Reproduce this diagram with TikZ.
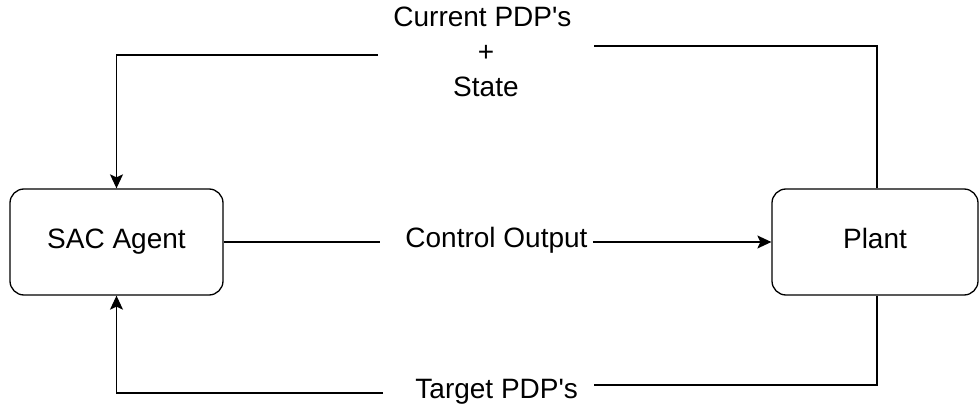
\documentclass[tikz,border=0pt]{standalone}
\usepackage{fontspec}
\setmainfont{Liberation Sans}
\usetikzlibrary{arrows.meta}

\begin{document}
\begin{tikzpicture}[x=0.5pt, y=-0.5pt,
    every node/.style={font=\fontsize{14}{17.5}\selectfont},
    block/.style={draw, rounded corners=7pt, line width=0.65pt, minimum height=53pt,
      text height=10pt, text depth=3pt},
    wire/.style={line width=0.65pt},
    arr/.style={wire, -{Stealth[length=7pt, width=6.5pt, inset=1.5pt]}},
    tag/.style={inner ysep=0pt, inner xsep=0pt, anchor=west}]
  \useasboundingbox (0,0) rectangle (979,406);
  % the two blocks
  \node[block, minimum width=106.5pt] (sac) at (116.5,242) {SAC Agent};
  \node[block, minimum width=103pt] (plant) at (875,242) {Plant};
  % labels between the blocks
  \node[tag, text height=10pt, text depth=4pt] (ctrl) at (380,242)
    {\hspace*{12.5pt}Control Output\hspace*{2.5pt}};
  \node[tag, align=center] (cur) at (378,52)
    {\hspace*{7.5pt}Current PDP\textquotesingle s\hspace*{11pt}\\+\\State};
  \node[tag, text height=10pt, text depth=5pt] (tgt) at (383,393)
    {\hspace*{16pt}Target PDP\textquotesingle s\hspace*{8pt}};
  % connectors
  \draw[wire] (sac.east) -- (ctrl.west);
  \draw[arr] (ctrl.east) -- (plant.west);
  \draw[wire] (plant.north -| 877,0) |- ([yshift=3pt]cur.east);
  \draw[arr] ([yshift=-1.5pt]cur.west) -| (sac.north);
  \draw[wire] (plant.south -| 877,0) |- ([yshift=4pt]tgt.east);
  \draw[arr] (tgt.west) -| (sac.south);
\end{tikzpicture}
\end{document}
